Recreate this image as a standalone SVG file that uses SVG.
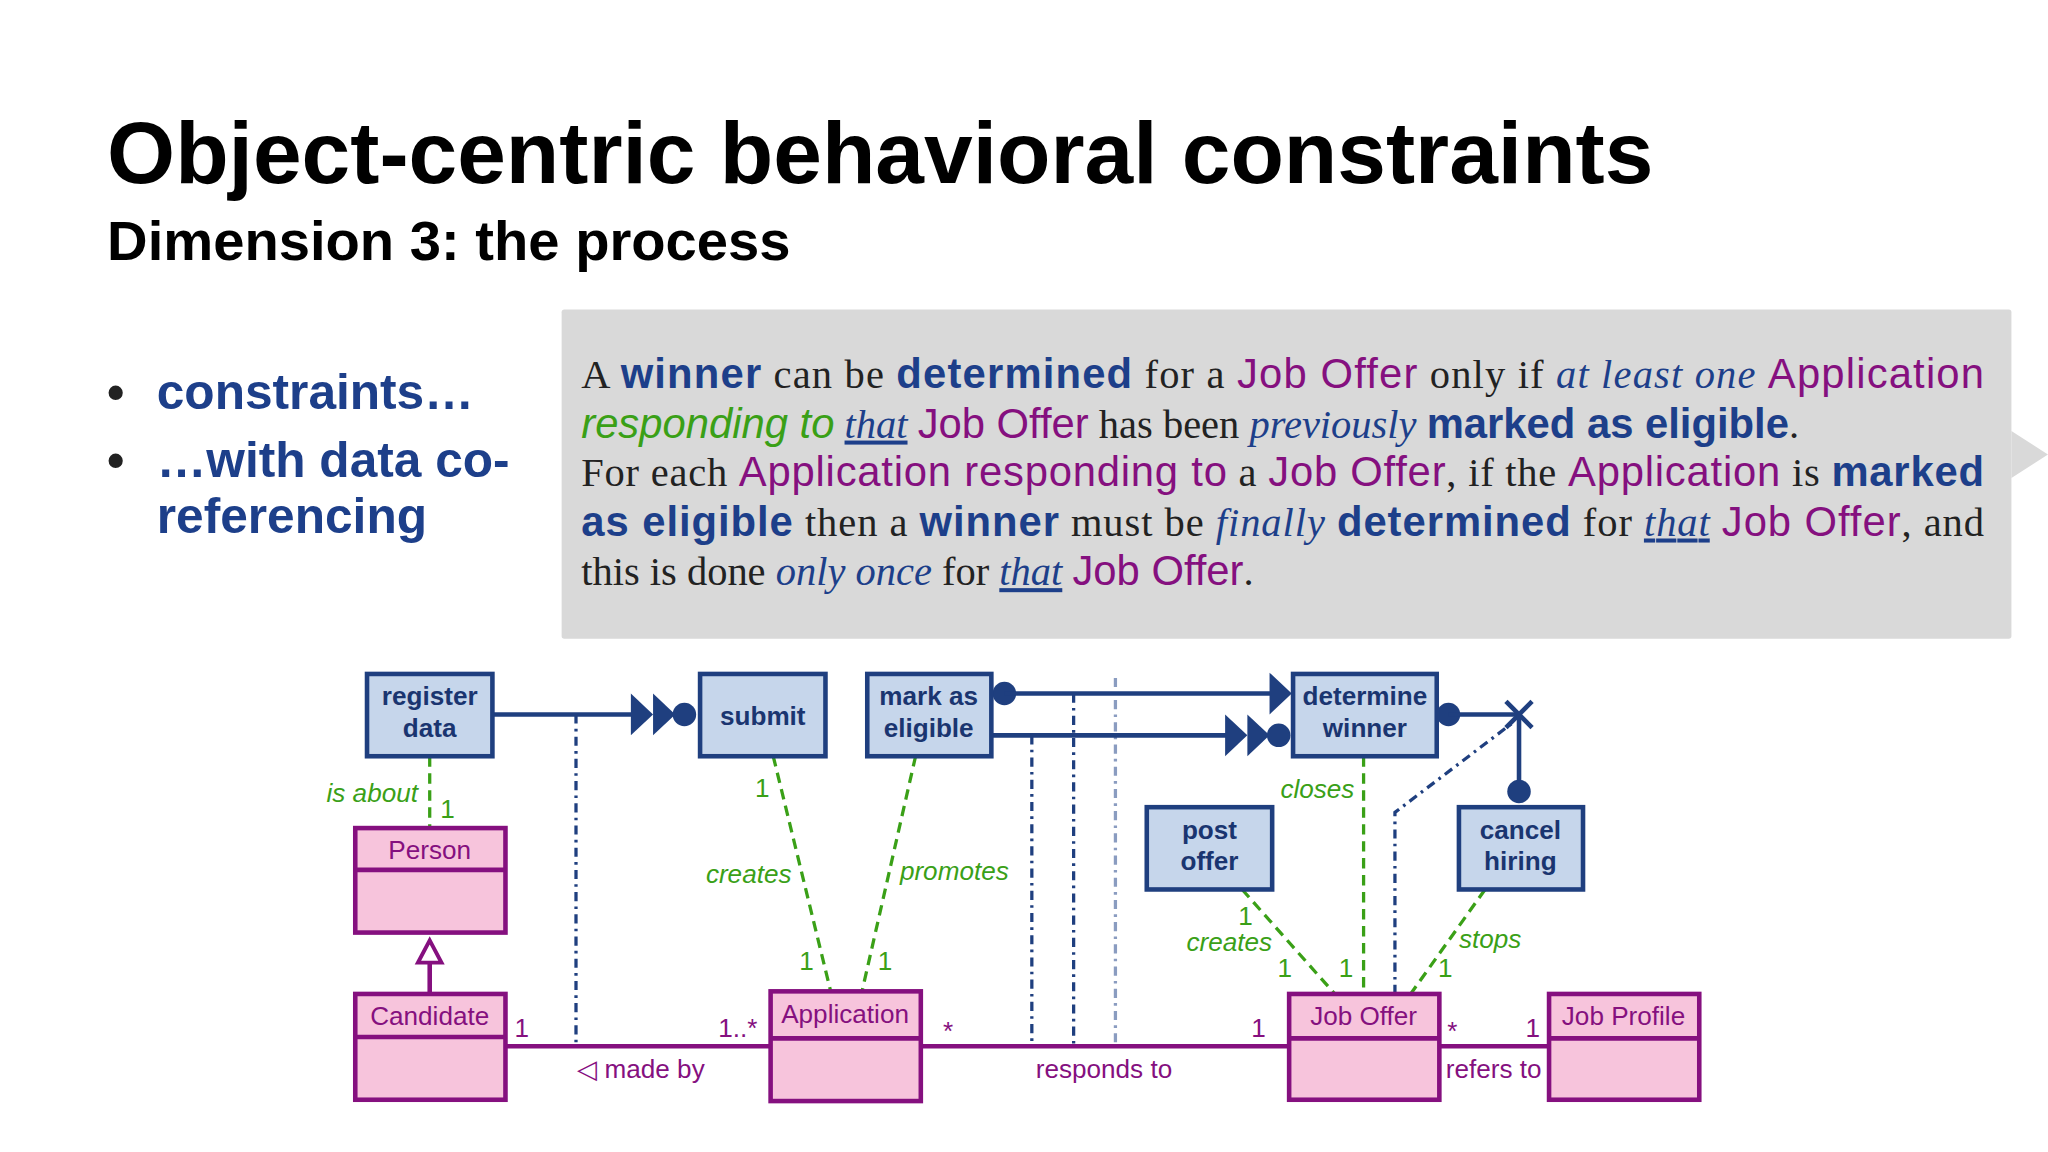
<svg xmlns="http://www.w3.org/2000/svg" width="2048" height="1152" viewBox="0 0 2048 1152">
<style>
.t{font-family:"Liberation Sans",Arial,sans-serif}
.act rect{fill:#c6d6eb;stroke:#1f3f7f;stroke-width:3.5}
.act text{font-family:"Liberation Sans",Arial,sans-serif;font-weight:bold;font-size:20px;fill:#1a3570;text-anchor:middle}
.cls rect{fill:#f7c4dc;stroke:#85107f;stroke-width:3.5}
.cls line{stroke:#85107f;stroke-width:3.5}
.cls text{font-family:"Liberation Sans",Arial,sans-serif;font-size:20px;fill:#85107f;text-anchor:middle}
.g{stroke:#3aa017;stroke-width:2.5;stroke-dasharray:8,5;fill:none}
.gl{font-family:"Liberation Sans",Arial,sans-serif;font-style:italic;font-size:20px;fill:#3aa017}
.gn{font-family:"Liberation Sans",Arial,sans-serif;font-size:20px;fill:#3aa017}
.p{stroke:#85107f;stroke-width:3.5;fill:none}
.pl{font-family:"Liberation Sans",Arial,sans-serif;font-size:20px;fill:#85107f}
.b{stroke:#1f3f7f;stroke-width:3.5;fill:none}
.bf{fill:#1f3f7f}
.dd{stroke:#1f3f7f;stroke-width:2.5;stroke-dasharray:7,4,2,4;fill:none}
.s{font-family:"Liberation Serif","Times New Roman",serif;fill:#222;font-size:31px}
.sb{font-family:"Liberation Sans",Arial,sans-serif;font-weight:bold;fill:#1d3f8a;font-size:32px}
.sp{font-family:"Liberation Sans",Arial,sans-serif;fill:#85107f;font-size:32px}
.sg{font-family:"Liberation Sans",Arial,sans-serif;font-style:italic;fill:#3aa017;font-size:32px}
.si{font-style:italic;fill:#1d3f8a}
</style>
<rect width="2048" height="1152" fill="#fff"/>
<g transform="scale(1.30612)">
<text class="t" x="82" y="140" font-size="67" font-weight="bold" fill="#000">Object-centric behavioral constraints</text>
<text class="t" x="82" y="199" font-size="43" font-weight="bold" fill="#000">Dimension 3: the process</text>
<g class="t" font-size="38" font-weight="bold" fill="#1d3f8a">
<text x="82" y="313" fill="#222">•</text><text x="120" y="313">constraints…</text>
<text x="82" y="365" fill="#222">•</text><text x="120" y="365">…with data co-</text>
<text x="120" y="408">referencing</text>
</g>
<rect x="430" y="237" width="1110" height="252" fill="#d9d9d9" rx="2"/>
<polygon points="1540,330 1568,348 1540,366" fill="#d9d9d9"/>
<text class="s" x="445" y="297" textLength="1074" lengthAdjust="spacing">A <tspan class="sb">winner</tspan> can be <tspan class="sb">determined</tspan> for a <tspan class="sp">Job Offer</tspan> only if <tspan class="si">at least one</tspan> <tspan class="sp">Application</tspan></text>
<text class="s" x="445" y="335"><tspan class="sg">responding to</tspan> <tspan class="si" text-decoration="underline">that</tspan> <tspan class="sp">Job Offer</tspan> has been <tspan class="si">previously</tspan> <tspan class="sb">marked as eligible</tspan>.</text>
<text class="s" x="445" y="372" textLength="1074" lengthAdjust="spacing">For each <tspan class="sp">Application responding to</tspan> a <tspan class="sp">Job Offer</tspan>, if the <tspan class="sp">Application</tspan> is <tspan class="sb">marked</tspan></text>
<text class="s" x="445" y="410" textLength="1074" lengthAdjust="spacing"><tspan class="sb">as eligible</tspan> then a <tspan class="sb">winner</tspan> must be <tspan class="si">finally</tspan> <tspan class="sb">determined</tspan> for <tspan class="si" text-decoration="underline">that</tspan> <tspan class="sp">Job Offer</tspan>, and</text>
<text class="s" x="445" y="448">this is done <tspan class="si">only once</tspan> for <tspan class="si" text-decoration="underline">that</tspan> <tspan class="sp">Job Offer</tspan>.</text>

<g id="connectors">
<line class="dd" x1="441" y1="547" x2="441" y2="800"/>
<line class="dd" x1="790" y1="563" x2="790" y2="800"/>
<line class="dd" x1="822" y1="531" x2="822" y2="800"/>
<line x1="854" y1="519" x2="854" y2="800" stroke="#8a9cc0" stroke-width="2.5" stroke-dasharray="7,4,2,4"/>
<polyline class="dd" points="1068,761 1068,622 1160,552"/>
<line class="b" x1="377" y1="547" x2="484" y2="547"/>
<polygon class="bf" points="483,531 500,547 483,563"/><polygon class="bf" points="500,531 517,547 500,563"/><circle class="bf" cx="524" cy="547" r="9"/>
<circle class="bf" cx="769" cy="531" r="9"/><line class="b" x1="769" y1="531" x2="974" y2="531"/>
<polygon class="bf" points="972,515 989,531 972,547"/>
<line class="b" x1="759" y1="563" x2="940" y2="563"/>
<polygon class="bf" points="938,547 955,563 938,579"/><polygon class="bf" points="955,547 972,563 955,579"/><circle class="bf" cx="979" cy="563" r="9"/>
<circle class="bf" cx="1109" cy="547" r="9"/><line class="b" x1="1109" y1="547" x2="1163" y2="547"/>
<line class="b" x1="1153" y1="537" x2="1173" y2="557"/><line class="b" x1="1173" y1="537" x2="1153" y2="557"/>
<line class="b" x1="1163" y1="547" x2="1163" y2="606"/><circle class="bf" cx="1163" cy="606" r="9"/>

<line class="g" x1="329" y1="579" x2="329" y2="634"/>
<text class="gl" x="320" y="614" text-anchor="end">is about</text><text class="gn" x="337" y="626">1</text>
<line class="g" x1="592" y1="579" x2="636" y2="759"/>
<text class="gl" x="606" y="676" text-anchor="end">creates</text><text class="gn" x="578" y="610">1</text><text class="gn" x="612" y="743">1</text>
<line class="g" x1="701" y1="579" x2="660" y2="759"/>
<text class="gl" x="689" y="674">promotes</text><text class="gn" x="672" y="743">1</text>
<line class="g" x1="951" y1="681" x2="1022" y2="761"/>
<text class="gn" x="948" y="708">1</text><text class="gl" x="974" y="728" text-anchor="end">creates</text><text class="gn" x="978" y="748">1</text>
<line class="g" x1="1044" y1="579" x2="1044" y2="761"/>
<text class="gl" x="1037" y="611" text-anchor="end">closes</text><text class="gn" x="1025" y="748">1</text>
<line class="g" x1="1137" y1="681" x2="1080" y2="761"/>
<text class="gl" x="1117" y="726">stops</text><text class="gn" x="1101" y="748">1</text>

<line class="p" x1="329" y1="761" x2="329" y2="737"/>
<polygon points="329,720 320,737 338,737" fill="#fff" stroke="#85107f" stroke-width="3"/>
<line class="p" x1="387" y1="801" x2="590" y2="801"/>
<text class="pl" x="394" y="794">1</text><text class="pl" x="580" y="794" text-anchor="end">1..*</text><text class="pl" x="442" y="825">◁ made by</text>
<line class="p" x1="705" y1="801" x2="987" y2="801"/>
<text class="pl" x="722" y="796">*</text><text class="pl" x="958" y="794">1</text><text class="pl" x="793" y="825">responds to</text>
<line class="p" x1="1102" y1="801" x2="1186" y2="801"/>
<text class="pl" x="1108" y="796">*</text><text class="pl" x="1168" y="794">1</text><text class="pl" x="1107" y="825">refers to</text>
</g>

<g id="register-data" class="act"><rect x="281" y="516" width="96" height="63"/><text x="329" y="540">register</text><text x="329" y="564">data</text></g>
<g id="submit" class="act"><rect x="536" y="516" width="96" height="63"/><text x="584" y="555">submit</text></g>
<g id="mark-as-eligible" class="act"><rect x="664" y="516" width="95" height="63"/><text x="711" y="540">mark as</text><text x="711" y="564">eligible</text></g>
<g id="determine-winner" class="act"><rect x="990" y="516" width="110" height="63"/><text x="1045" y="540">determine</text><text x="1045" y="564">winner</text></g>
<g id="post-offer" class="act"><rect x="878" y="618" width="96" height="63"/><text x="926" y="642">post</text><text x="926" y="666">offer</text></g>
<g id="cancel-hiring" class="act"><rect x="1117" y="618" width="95" height="63"/><text x="1164" y="642">cancel</text><text x="1164" y="666">hiring</text></g>

<g id="person" class="cls"><rect x="272" y="634" width="115" height="80"/><line x1="272" y1="666" x2="387" y2="666"/><text x="329" y="658">Person</text></g>
<g id="candidate" class="cls"><rect x="272" y="761" width="115" height="81"/><line x1="272" y1="794" x2="387" y2="794"/><text x="329" y="785">Candidate</text></g>
<g id="application" class="cls"><rect x="590" y="759" width="115" height="84"/><line x1="590" y1="795" x2="705" y2="795"/><text x="647" y="783">Application</text></g>
<g id="job-offer" class="cls"><rect x="987" y="761" width="115" height="81"/><line x1="987" y1="795" x2="1102" y2="795"/><text x="1044" y="785">Job Offer</text></g>
<g id="job-profile" class="cls"><rect x="1186" y="761" width="115" height="81"/><line x1="1186" y1="795" x2="1301" y2="795"/><text x="1243" y="785">Job Profile</text></g>
</g>
</svg>
